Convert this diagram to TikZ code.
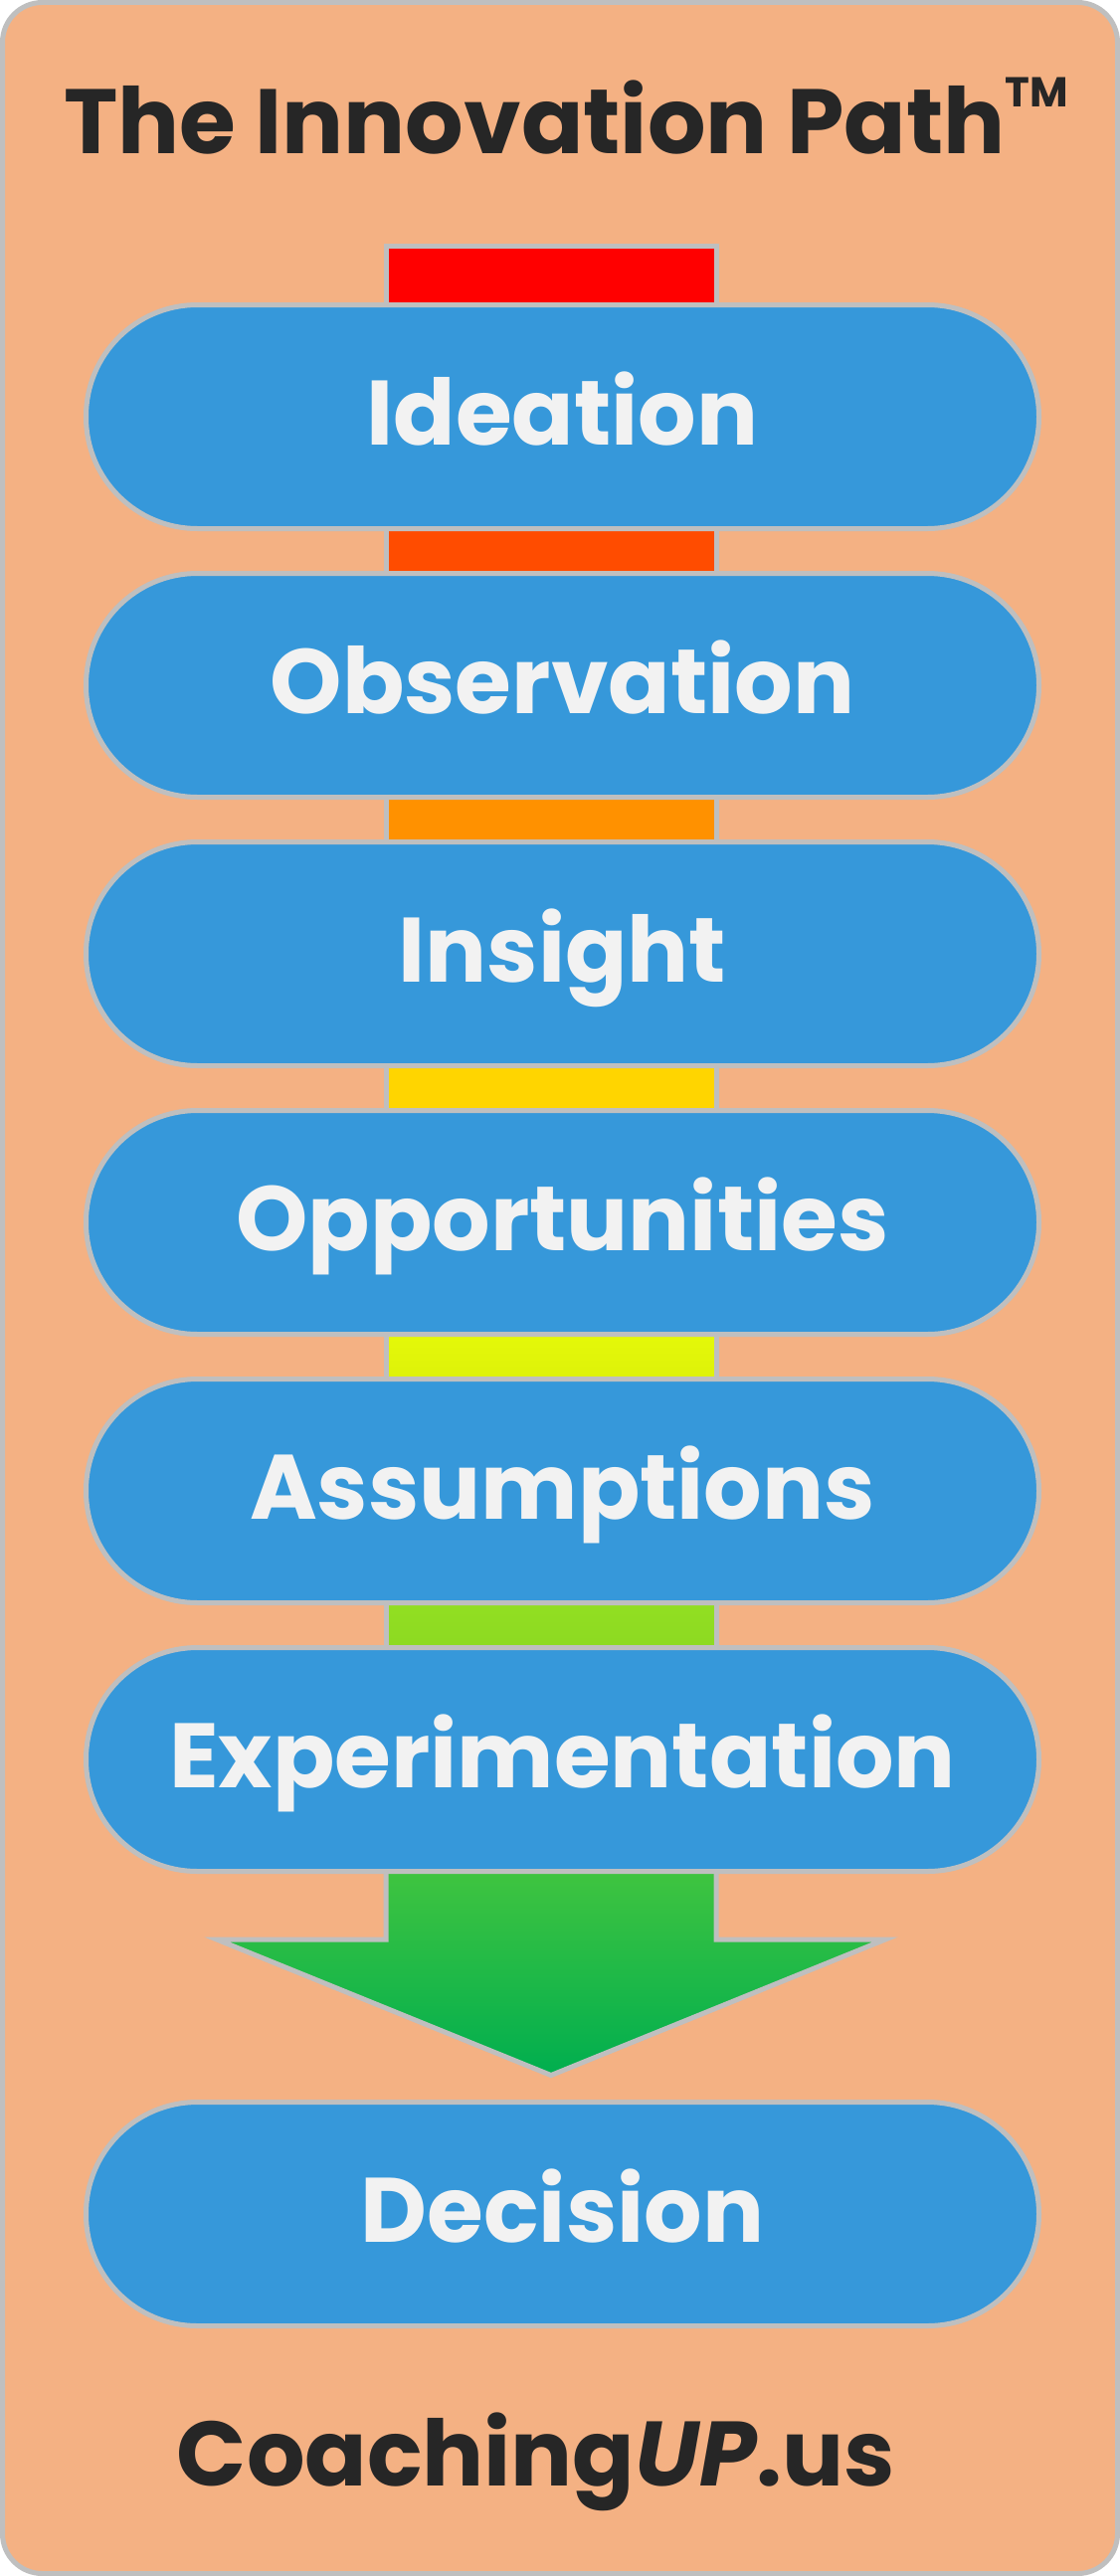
\documentclass[tikz,border=0pt]{standalone}
\usepackage{fontspec}
\setmainfont{Poppins}
\usetikzlibrary{calc}
\definecolor{bgc}{HTML}{F4B183}
\definecolor{edge}{HTML}{BFBFBF}
\definecolor{blu}{HTML}{3698DA}
\definecolor{txt}{HTML}{F2F2F2}
\definecolor{dark}{HTML}{262626}
\definecolor{c1}{HTML}{FF0000}
\definecolor{c2}{HTML}{FF4C00}
\definecolor{c3}{HTML}{FF9100}
\definecolor{c4}{HTML}{FFD500}
\definecolor{c5t}{HTML}{E6FA08}
\definecolor{c5b}{HTML}{DCF00A}
\definecolor{c6t}{HTML}{93E022}
\definecolor{c6b}{HTML}{8CD822}
\definecolor{gtop}{HTML}{42C53F}
\definecolor{gbot}{HTML}{00AE4F}
\pgfdeclarelayer{back}
\pgfdeclarelayer{mid}
\pgfsetlayers{back,mid,main}
\begin{document}
\begin{tikzpicture}[x=1pt,y=-1pt,
  stage/.style={draw=edge, line width=5pt, fill=blu, rounded corners=112pt,
    minimum width=958pt, minimum height=225pt, inner sep=0pt, text=txt,
    font=\fontsize{92}{100}\selectfont\bfseries, text height=64pt, text depth=8pt},
  barbox/.style={draw=edge, line width=5pt},
  heading/.style={text=dark, inner sep=0pt, font=\fontsize{92}{100}\selectfont\bfseries}]
\useasboundingbox (0,0) rectangle (1126,2590);
\begin{pgfonlayer}{back}
\draw[draw=edge, fill=bgc, line width=5pt, rounded corners=40pt] (2.5,2.5) rectangle (1123.5,2587.5);
\end{pgfonlayer}

\node[heading, anchor=base] (title) at (569,155) {The Innovation Path\raisebox{47pt}{\fontsize{42}{42}\selectfont TM}};

\node[stage] (s1) at (565.5,419) {Ideation};
\node[stage] (s2) at (565.5,689) {Observation};
\node[stage] (s3) at (565.5,959) {Insight};
\node[stage] (s4) at (565.5,1229) {Opportunities};
\node[stage] (s5) at (565.5,1499) {Assumptions};
\node[stage] (s6) at (565.5,1769) {Experimentation};
\node[stage] (s7) at (565.5,2226) {Decision};

\node[heading, anchor=base] (site) at (539,2499) {Coaching\textit{UP}.us};

\begin{pgfonlayer}{mid}
\draw[barbox, fill=c1] ([xshift=-177.5pt,yshift=56.5pt]s1.north) rectangle ([xshift=154.5pt,yshift=-12pt]s1.north);
\draw[barbox, fill=c2] ([xshift=-177.5pt,yshift=12pt]s1.south) rectangle ([xshift=154.5pt,yshift=-12pt]s2.north);
\draw[barbox, fill=c3] ([xshift=-177.5pt,yshift=12pt]s2.south) rectangle ([xshift=154.5pt,yshift=-12pt]s3.north);
\draw[barbox, fill=c4] ([xshift=-177.5pt,yshift=12pt]s3.south) rectangle ([xshift=154.5pt,yshift=-12pt]s4.north);
\draw[barbox, top color=c5t, bottom color=c5b] ([xshift=-177.5pt,yshift=12pt]s4.south) rectangle ([xshift=154.5pt,yshift=-12pt]s5.north);
\draw[barbox, top color=c6t, bottom color=c6b] ([xshift=-177.5pt,yshift=12pt]s5.south) rectangle ([xshift=154.5pt,yshift=-12pt]s6.north);
\coordinate (a1) at ([xshift=-177.5pt,yshift=12pt]s6.south);
\coordinate (a2) at ([xshift=-177.5pt,yshift=-66pt]s6.south);
\coordinate (a3) at ([xshift=-347.5pt,yshift=-66pt]s6.south);
\coordinate (tip) at ([xshift=-11.5pt,yshift=24.5pt]s7.north);
\coordinate (a5) at ([xshift=324.5pt,yshift=-66pt]s6.south);
\coordinate (a6) at ([xshift=154.5pt,yshift=-66pt]s6.south);
\coordinate (a7) at ([xshift=154.5pt,yshift=12pt]s6.south);
\draw[barbox, top color=gtop, bottom color=gbot, line join=miter]
  (a1) -- (a2) -- (a3) -- (tip) -- (a5) -- (a6) -- (a7) -- cycle;
\end{pgfonlayer}
\end{tikzpicture}
\end{document}
